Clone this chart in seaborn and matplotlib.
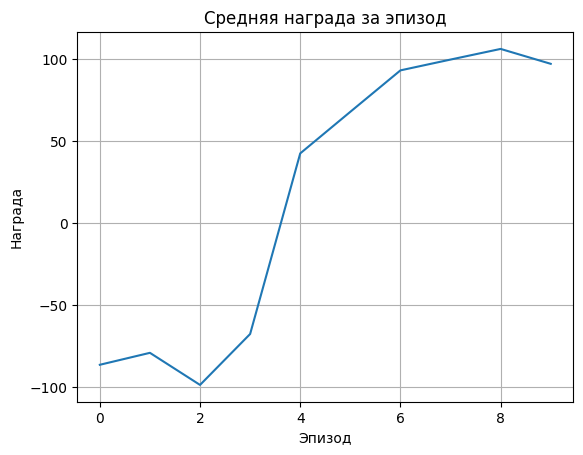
import pandas as pd
import seaborn as sns
import matplotlib
matplotlib.use("Agg")
import matplotlib.pyplot as plt

# Mean reward per episode
episodes = [0, 1, 2, 3, 4, 5, 6, 7, 8, 9]
rewards = [-86.5, -79.2, -98.8, -67.7, 42.6, 68.0, 93.3, 99.9, 106.4, 97.3]


def plot_rewards(episodes: list, rewards: list, path: str) -> None:
    df = pd.DataFrame({"episode": episodes, "reward": rewards})
    fig, ax = plt.subplots(figsize=(6.4, 4.8), dpi=100)
    sns.lineplot(data=df, x="episode", y="reward", ax=ax)
    ax.set_title("Средняя награда за эпизод")
    ax.set_xlabel("Эпизод")
    ax.set_ylabel("Награда")
    ax.grid(True)
    fig.savefig(path, bbox_inches="tight")


def main() -> None:
    plot_rewards(episodes, rewards, "out.png")


if __name__ == "__main__":
    main()
